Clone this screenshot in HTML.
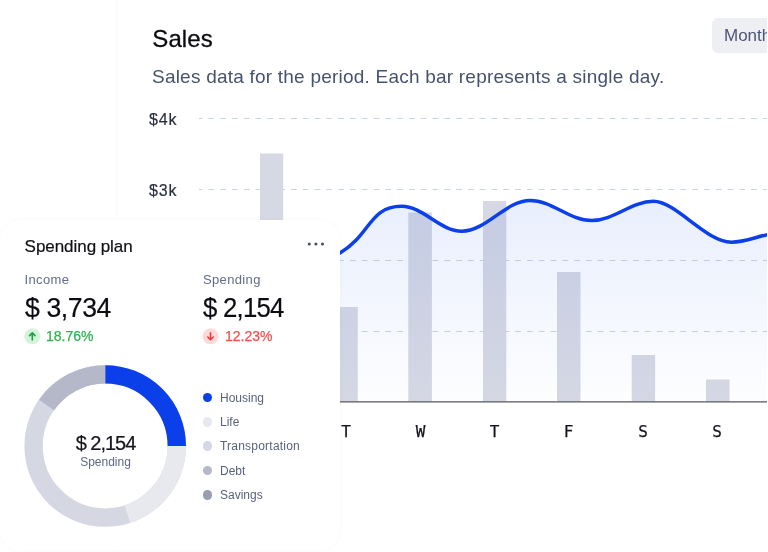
<!DOCTYPE html>
<html lang="en">
<head>
<meta charset="utf-8">
<title>Sales</title>
<style>
*{box-sizing:border-box;margin:0;padding:0}
html,body{width:768px;height:552px;overflow:hidden;background:#fff}
body{position:relative;font-family:"Liberation Sans",sans-serif;color:#0c0d12}
.abs{position:absolute;white-space:nowrap;line-height:1}
#sales-card{position:absolute;left:117.5px;top:-30px;width:700px;height:640px;background:#fff;box-shadow:0 0 6px rgba(20,30,60,.03)}
#title{left:152.3px;top:26.8px;font-size:24px;color:#0b0b10;letter-spacing:.1px;-webkit-text-stroke:.3px #0b0b10}
#sub{left:152px;top:67px;font-size:19px;color:#48526f;letter-spacing:.22px}
#month{left:712px;top:18px;width:80px;height:35px;background:#eeeff3;border-radius:6px;font-size:17px;color:#4c5676;padding:9px 0 0 12px}
.yl{font-size:16px;color:#2c3042;left:149px;letter-spacing:.8px;-webkit-text-stroke:.2px #2c3042}
.xl{font-family:"DejaVu Sans Mono","Liberation Mono",monospace;font-size:16px;color:#15161c;width:30px;text-align:center;top:424px;-webkit-text-stroke:.25px #15161c}
#card{position:absolute;left:0;top:220px;width:339.8px;height:329.5px;background:#fff;border-radius:20px;box-shadow:0 0 4px rgba(20,30,60,.03)}
#sp-title{left:24.6px;top:238.2px;font-size:17px;color:#101116;letter-spacing:-.05px;-webkit-text-stroke:.2px #101116}
.lab{font-size:13px;color:#626c8c;top:273px;letter-spacing:.35px}
.big{font-size:28px;color:#0c0d12;top:293.5px;letter-spacing:-.42px;transform:scaleX(.95);transform-origin:0 0;-webkit-text-stroke:.2px #0c0d12}
.pct{font-size:14px;top:329px;-webkit-text-stroke:.25px currentColor}
.leg{font-size:12px;color:#5b627e}
.dot{position:absolute;width:9.2px;height:9.2px;border-radius:50%}
</style>
</head>
<body>
<div id="sales-card"></div>
<div class="abs" id="title">Sales</div>
<div class="abs" id="month">Monthly</div>
<div class="abs" id="sub">Sales data for the period. Each bar represents a single day.</div>
<div class="abs yl" style="top:112px">$4k</div>
<div class="abs yl" style="top:183px">$3k</div>
<svg class="abs" style="left:0;top:0" width="768" height="552" viewBox="0 0 768 552">
  <defs>
    <linearGradient id="ag" gradientUnits="userSpaceOnUse" x1="0" y1="200" x2="0" y2="401">
      <stop offset="0" stop-color="#1e5aeb" stop-opacity="0.10"/>
      <stop offset="1" stop-color="#1e5aeb" stop-opacity="0.008"/>
    </linearGradient>
  </defs>
  <g stroke="#cad5e3" stroke-width="1.1" stroke-dasharray="5.9 5.9" stroke-dashoffset="2.5" fill="none">
    <path d="M199 118.5H768"/>
    <path d="M199 189.5H768"/>
    <path d="M199 260.5H768"/>
    <path d="M199 331.5H768"/>
  </g>
  <g fill="#d6d8e3">
    <rect x="260" y="153.5" width="23.2" height="248"/>
    <rect x="334.3" y="307" width="23.5" height="94.5"/>
    <rect x="408.3" y="212.5" width="23.6" height="189"/>
    <rect x="483" y="201" width="23.3" height="200.5"/>
    <rect x="557" y="272" width="23.5" height="129.5"/>
    <rect x="631.7" y="355" width="23.4" height="46.5"/>
    <rect x="706" y="379.5" width="23.5" height="22"/>
  </g>
  <path fill="url(#ag)" d="M320 265 L340.7 252.5 C370.7 234.5 369.5 206.3 401.5 206.3 C423.2 206.3 440.0 231.2 461.7 231.2 C486.4 231.2 505.5 200.5 530.2 200.5 C552.3 200.5 569.4 220.6 591.5 220.6 C613.8 220.6 631.1 201.3 653.4 201.3 C676 201.3 706 242.2 731.5 242.2 C744 242.2 755 237.2 770 234 V401 H320 Z"/>
  <path id="line" fill="none" stroke="#0b3fea" stroke-width="3.5" stroke-linecap="round" stroke-linejoin="round" d="M320 265 L340.7 252.5 C370.7 234.5 369.5 206.3 401.5 206.3 C423.2 206.3 440.0 231.2 461.7 231.2 C486.4 231.2 505.5 200.5 530.2 200.5 C552.3 200.5 569.4 220.6 591.5 220.6 C613.8 220.6 631.1 201.3 653.4 201.3 C676 201.3 706 242.2 731.5 242.2 C744 242.2 755 237.2 770 234"/>
  <path d="M199 401.9H768" stroke="#54565c" stroke-width="1.15" fill="none"/>
  <rect x="767" y="0" width="1" height="552" fill="#fff"/>
</svg>
<div class="abs xl" style="left:331px">T</div>
<div class="abs xl" style="left:405.5px">W</div>
<div class="abs xl" style="left:479.5px">T</div>
<div class="abs xl" style="left:553.5px">F</div>
<div class="abs xl" style="left:628px">S</div>
<div class="abs xl" style="left:702px">S</div>

<div id="card"></div>
<div class="abs" id="sp-title">Spending plan</div>
<svg class="abs" style="left:305.3px;top:239.7px" width="22" height="8" viewBox="0 0 22 8"><g fill="#4a4f63"><circle cx="4.3" cy="4" r="1.55"/><circle cx="10.9" cy="4" r="1.55"/><circle cx="17.5" cy="4" r="1.55"/></g></svg>
<div class="abs lab" style="left:24.5px">Income</div>
<div class="abs lab" style="left:203px">Spending</div>
<div class="abs big" style="left:24.5px">$ 3,734</div>
<div class="abs big" style="left:203px;letter-spacing:-.83px;transform:scaleX(.92)">$ 2,154</div>
<svg class="abs" style="left:24px;top:328px" width="17" height="17" viewBox="0 0 17 17"><circle cx="8.3" cy="8.3" r="8" fill="#d3f4db"/><path d="M8.3 12V5M5.6 7.6L8.3 4.9L11 7.6" stroke="#1f9d42" stroke-width="1.6" fill="none" stroke-linecap="round" stroke-linejoin="round"/></svg>
<div class="abs pct" style="left:46px;color:#2fb350">18.76%</div>
<svg class="abs" style="left:202.3px;top:328px" width="17" height="17" viewBox="0 0 17 17"><circle cx="8.5" cy="8.3" r="8" fill="#fddada"/><path d="M8.5 4.8V11.6M5.8 9L8.5 11.7L11.2 9" stroke="#ee3b38" stroke-width="1.6" fill="none" stroke-linecap="round" stroke-linejoin="round"/></svg>
<div class="abs pct" style="left:225px;color:#f0524f">12.23%</div>

<svg class="abs" style="left:0;top:350px" width="200" height="190" viewBox="0 350 200 190">
  <g fill="none" stroke-width="18.4" transform="translate(105.2 446)">
    <circle r="71.6" stroke="#d5d7e2"/>
    <path d="M0.00 -71.60 A71.6 71.6 0 0 1 71.60 -0.00" stroke="#0b3fea"/>
    <path d="M71.60 -0.00 A71.6 71.6 0 0 1 22.24 68.06" stroke="#e8e9ef"/>
    <path d="M-58.65 -41.07 A71.6 71.6 0 0 1 -0.00 -71.60" stroke="#b5b8c8"/>
  </g>
</svg>
<div class="abs" style="left:45.5px;width:120px;text-align:center;top:432.8px;font-size:20px;color:#15161c;letter-spacing:-1px;-webkit-text-stroke:.2px #15161c">$ 2,154</div>
<div class="abs" style="left:45.5px;width:120px;text-align:center;top:456.3px;font-size:12px;color:#5f6885">Spending</div>

<div class="dot" style="left:202.9px;top:392.9px;background:#0b3fea"></div>
<div class="dot" style="left:202.9px;top:417.4px;background:#e8e9ef"></div>
<div class="dot" style="left:202.9px;top:441.4px;background:#d5d7e2"></div>
<div class="dot" style="left:202.9px;top:465.9px;background:#b5b8c8"></div>
<div class="dot" style="left:202.9px;top:490.4px;background:#989db1"></div>
<div class="abs leg" style="left:220px;top:391.5px">Housing</div>
<div class="abs leg" style="left:220px;top:416px">Life</div>
<div class="abs leg" style="left:220px;top:440px;letter-spacing:.22px">Transportation</div>
<div class="abs leg" style="left:220px;top:464.5px">Debt</div>
<div class="abs leg" style="left:220px;top:489px">Savings</div>
</body>
</html>
